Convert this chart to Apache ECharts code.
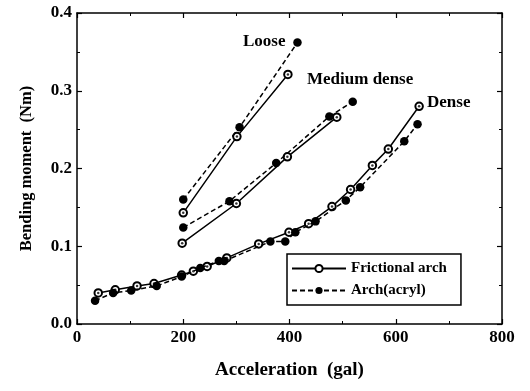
<!DOCTYPE html>
<html lang="en">
<head>
    <meta charset="UTF-8">
    <script src="https://cdn.jsdelivr.net/npm/echarts@6/dist/echarts.min.js"></script>
    <style>
        html, body { margin: 0; padding: 0; background: #fff; }
        #main { width: 530px; height: 391px; }
    </style>
</head>
<body>
<div id="main"></div>
<script>
    // [acceleration, moment]
    var looseFric = [[200, 0.143], [301, 0.241], [397, 0.321]];
    var looseAcryl = [[200, 0.160], [306, 0.253], [415, 0.362]];
    var mediumFric = [[198, 0.104], [300, 0.155], [396, 0.215], [489, 0.266]];
    var mediumAcryl = [[200, 0.124], [287, 0.158], [375, 0.207], [475, 0.267], [519, 0.286]];
    var denseFric = [[40, 0.040], [72, 0.044], [113, 0.049], [145, 0.052], [197, 0.063], [219, 0.068],
        [245, 0.074], [282, 0.085], [342, 0.103], [399, 0.118], [436, 0.129], [480, 0.151],
        [515, 0.173], [556, 0.204], [586, 0.225], [644, 0.280]];
    var denseAcryl = [[34, 0.030], [68, 0.040], [102, 0.043], [150, 0.049], [197, 0.061], [232, 0.072],
        [267, 0.081], [277, 0.081], [364, 0.106], [392, 0.106], [411, 0.118], [449, 0.132],
        [506, 0.159], [533, 0.176], [616, 0.235], [641, 0.257]];

    var fricName = 'Frictional arch';
    var acrylName = 'Arch(acryl)';
    var font = '"Liberation Serif", "Times New Roman", serif';

    function fricSeries(data) {
        return {
            name: fricName, type: 'line', data: data, z: 3,
            symbol: 'emptyCircle', symbolSize: 7.5,
            itemStyle: { color: '#000', borderWidth: 1.5 },
            lineStyle: { color: '#000', width: 1.5, type: 'solid' },
            color: '#000'
        };
    }
    // small centre dot of the open circles
    function fricDots(data) {
        return {
            type: 'scatter', data: data, z: 5, silent: true,
            symbol: 'circle', symbolSize: 2.5,
            itemStyle: { color: '#000' }
        };
    }
    function acrylSeries(data) {
        return {
            name: acrylName, type: 'line', data: data, z: 4,
            symbol: 'circle', symbolSize: 8.5,
            itemStyle: { color: '#000' },
            lineStyle: { color: '#000', width: 1.5, type: [5, 3] },
            color: '#000'
        };
    }

    function axisCommon() {
        return {
            axisLine: { show: true, onZero: false, lineStyle: { color: '#000', width: 1.5 } },
            axisTick: { show: true, inside: true, length: 5, lineStyle: { color: '#000', width: 1.2 } },
            minorTick: { show: true, splitNumber: 2, length: 3, lineStyle: { color: '#000' } },
            splitLine: { show: false }
        };
    }

    var xBottom = Object.assign(axisCommon(), {
        type: 'value', min: 0, max: 800, interval: 200, position: 'bottom',
        name: 'Acceleration  (gal)', nameLocation: 'middle', nameGap: 37,
        nameTextStyle: { fontFamily: font, fontWeight: 'bold', fontSize: 19, color: '#000' },
        axisLabel: { fontFamily: font, fontWeight: 'bold', fontSize: 17, color: '#000', margin: 5 }
    });
    var xTop = Object.assign(axisCommon(), {
        type: 'value', min: 0, max: 800, interval: 200, position: 'top',
        axisLabel: { show: false }
    });
    var yLeft = Object.assign(axisCommon(), {
        type: 'value', min: 0, max: 0.4, interval: 0.1, position: 'left',
        name: 'Bending moment  (Nm)', nameLocation: 'middle', nameGap: 42,
        nameTextStyle: { fontFamily: font, fontWeight: 'bold', fontSize: 16.5, color: '#000' },
        axisLabel: {
            fontFamily: font, fontWeight: 'bold', fontSize: 17, color: '#000', margin: 5,
            formatter: function (v) { return v.toFixed(1); }
        }
    });
    var yRight = Object.assign(axisCommon(), {
        type: 'value', min: 0, max: 0.4, interval: 0.1, position: 'right',
        axisLabel: { show: false }
    });

    var chart = echarts.init(document.getElementById('main'));
    var option = {
        animation: false,
        backgroundColor: '#fff',
        grid: { left: 77, right: 28, top: 13, bottom: 67 },
        xAxis: [xBottom, xTop],
        yAxis: [yLeft, yRight],
        legend: {
            data: [fricName, acrylName],
            orient: 'vertical',
            left: 287, top: 254,
            width: 176,
            padding: [7, 14, 7, 4],
            itemGap: 7,
            itemWidth: 54, itemHeight: 9,
            borderColor: '#000', borderWidth: 1.5,
            textStyle: { fontFamily: font, fontWeight: 'bold', fontSize: 15, color: '#000' }
        },
        series: [
            fricSeries(looseFric), acrylSeries(looseAcryl),
            fricSeries(mediumFric), acrylSeries(mediumAcryl),
            fricSeries(denseFric), acrylSeries(denseAcryl),
            fricDots(looseFric), fricDots(mediumFric), fricDots(denseFric)
        ],
        graphic: [
            { type: 'text', left: 243, top: 33, style: { text: 'Loose', font: 'bold 17px ' + font, fill: '#000' } },
            { type: 'text', left: 307, top: 71, style: { text: 'Medium dense', font: 'bold 17px ' + font, fill: '#000' } },
            { type: 'text', left: 427, top: 94, style: { text: 'Dense', font: 'bold 17px ' + font, fill: '#000' } }
        ]
    };
    chart.setOption(option);
</script>
</body>
</html>
